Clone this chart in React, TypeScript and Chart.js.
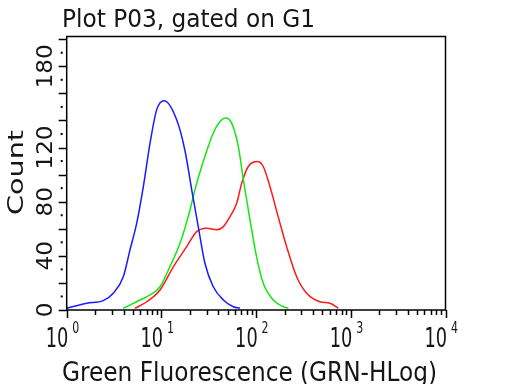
import React, { useEffect, useRef } from "react";
import { Chart, registerables } from "chart.js";

Chart.register(...registerables);

const titleText = "Plot P03, gated on G1";
const xAxisTitle = "Green Fluorescence (GRN-HLog)";
const yAxisTitle = "Count";

const xDecades = [1, 10, 100, 1000, 10000];
const xExponents = ["0", "1", "2", "3", "4"];
const yMajorTicks = [0, 20, 40, 60, 80, 100, 120, 140, 160, 180, 200];
const yMinorTicks = [10, 30, 50, 70, 90, 110, 130, 150, 170, 190];
const yLabelValues = [0, 40, 80, 120, 180];

const blueX = [1.0, 1.63, 2.43, 3.1, 3.96, 4.66, 5.48, 6.44, 7.58, 8.92, 10.7, 14.5, 17.7, 20.9, 24.5, 28.8, 35.3, 45.1, 57.4, 67.6];
const blueY = [1.3, 5, 6.9, 12.4, 24.6, 44.4, 64, 91, 123, 148, 154.6, 140.5, 118, 88.8, 61.6, 34.5, 17.2, 7.4, 2.4, 1.3];

const greenX = [3.96, 5.48, 7.58, 9.67, 12.3, 15.7, 19.2, 23.6, 28.8, 35.3, 41.6, 47.7, 55.2, 64.9, 73.3, 86.2, 101, 119, 152, 194, 219];
const greenY = [1.3, 6.1, 11.1, 17.2, 32, 49.3, 69, 93.7, 113.4, 130.7, 139.3, 141.8, 138, 120.8, 96.2, 66.6, 39.4, 19.7, 7.4, 2.4, 1.3];

const redX = [5.26, 7.0, 9.67, 13.4, 18.5, 23.6, 30.1, 38.4, 45.1, 53, 62.4, 70.5, 82.7, 103, 119, 140, 171, 210, 268, 342, 473, 603, 738];
const redY = [1.3, 6.1, 14.8, 32, 46.8, 57.9, 60.4, 59.2, 61.6, 69, 78.9, 93.7, 106, 109.7, 106, 91.2, 69, 46.8, 24.6, 12.4, 6.1, 5, 1.3];

const toPoints = (xs: number[], ys: number[]) => xs.map((x, i) => ({ x, y: ys[i] }));

const FONT = '"DejaVu Sans", sans-serif';
const TEXT_COLOR = "#151515";

function drawScaled(
  ctx: CanvasRenderingContext2D,
  text: string,
  x: number,
  y: number,
  size: number,
  targetW: number | null,
  align: CanvasTextAlign
) {
  ctx.font = `${size}px ${FONT}`;
  const w = ctx.measureText(text).width;
  const sx = targetW ? targetW / w : 1;
  ctx.save();
  ctx.translate(x, y);
  ctx.scale(sx, 1);
  ctx.textAlign = align;
  ctx.textBaseline = "alphabetic";
  ctx.fillText(text, 0, 0);
  ctx.restore();
}

const decorPlugin = {
  id: "decor",
  afterDraw(chart: any) {
    const ctx: CanvasRenderingContext2D = chart.ctx;
    const { left, right, top, bottom } = chart.chartArea;
    const xs = chart.scales.x;
    const ys = chart.scales.y;
    ctx.save();
    ctx.fillStyle = TEXT_COLOR;
    ctx.strokeStyle = "#000";

    // frame
    ctx.lineWidth = 1.5;
    ctx.strokeRect(left, top, right - left, bottom - top);

    // y ticks
    ctx.lineWidth = 1.5;
    ctx.beginPath();
    for (const v of yMajorTicks) {
      const py = Math.round(ys.getPixelForValue(v)) + 0.5;
      ctx.moveTo(left - 8, py);
      ctx.lineTo(left, py);
    }
    ctx.stroke();
    ctx.fillStyle = "#000";
    for (const v of yMinorTicks) {
      const py = ys.getPixelForValue(v);
      ctx.fillRect(left - 6, py - 1, 2, 2);
    }

    // x ticks
    ctx.beginPath();
    for (let d = 0; d < xDecades.length; d++) {
      const base = xDecades[d];
      const px = Math.round(xs.getPixelForValue(base)) + 0.5;
      ctx.moveTo(px, bottom);
      ctx.lineTo(px, bottom + 8);
      if (d < xDecades.length - 1) {
        for (let m = 2; m <= 9; m++) {
          const mx = Math.round(xs.getPixelForValue(base * m)) + 0.5;
          ctx.moveTo(mx, bottom);
          ctx.lineTo(mx, bottom + 5);
        }
      }
    }
    ctx.stroke();

    ctx.fillStyle = TEXT_COLOR;
    // x tick labels
    for (let d = 0; d < xDecades.length; d++) {
      const px = xs.getPixelForValue(xDecades[d]);
      drawScaled(ctx, "10", px + 1.6, 346.5, 26, 22.6, "right");
      drawScaled(ctx, xExponents[d], px + 5.5, 333, 15, 7, "left");
    }

    // y tick labels (rotated)
    for (const v of yLabelValues) {
      const py = ys.getPixelForValue(v);
      const t = String(v);
      ctx.save();
      ctx.translate(52, py);
      ctx.rotate(-Math.PI / 2);
      drawScaled(ctx, t, 0, 0, 22, 14.7 * t.length, "center");
      ctx.restore();
    }

    // axis titles
    drawScaled(ctx, xAxisTitle, 62, 380.5, 26, 375, "left");
    ctx.save();
    ctx.translate(23, 172.5);
    ctx.rotate(-Math.PI / 2);
    drawScaled(ctx, yAxisTitle, 0, 0, 22, 85, "center");
    ctx.restore();

    // title
    drawScaled(ctx, titleText, 62, 26.7, 24, 253, "left");
    ctx.restore();
  },
};

export default function App() {
  const ref = useRef<HTMLCanvasElement | null>(null);
  useEffect(() => {
    if (!ref.current) return;
    const mk = (data: any, color: string) => ({
      data,
      borderColor: color,
      backgroundColor: color,
      borderWidth: 1.5,
      pointRadius: 0,
      showLine: true,
      fill: false,
      cubicInterpolationMode: "monotone" as const,
    });
    const chart = new Chart(ref.current, {
      type: "scatter",
      data: {
        datasets: [
          mk(toPoints(blueX, blueY), "#1a1aff"),
          mk(toPoints(greenX, greenY), "#14e614"),
          mk(toPoints(redX, redY), "#ff1a1a"),
        ],
      },
      options: {
        responsive: false,
        animation: false,
        devicePixelRatio: 1,
        layout: { padding: { top: 36.5, right: 66.5, left: 0, bottom: 0 } },
        plugins: {
          legend: { display: false },
          title: { display: false },
          tooltip: { enabled: false },
        },
        scales: {
          x: {
            type: "logarithmic",
            min: 1,
            max: 10000,
            ticks: { display: false },
            grid: { display: false },
            border: { display: false },
            afterFit: (s: any) => {
              s.height = 74;
            },
          },
          y: {
            type: "linear",
            min: 0,
            max: 202,
            ticks: { display: false },
            grid: { display: false },
            border: { display: false },
            afterFit: (s: any) => {
              s.width = 66.7;
            },
          },
        },
      },
      plugins: [decorPlugin],
    });
    return () => chart.destroy();
  }, []);
  return (
    <div style={{ position: "absolute", left: 0, top: 0, width: 512, height: 384, background: "#fff" }}>
      <canvas ref={ref} width={512} height={384} style={{ display: "block" }} />
    </div>
  );
}
